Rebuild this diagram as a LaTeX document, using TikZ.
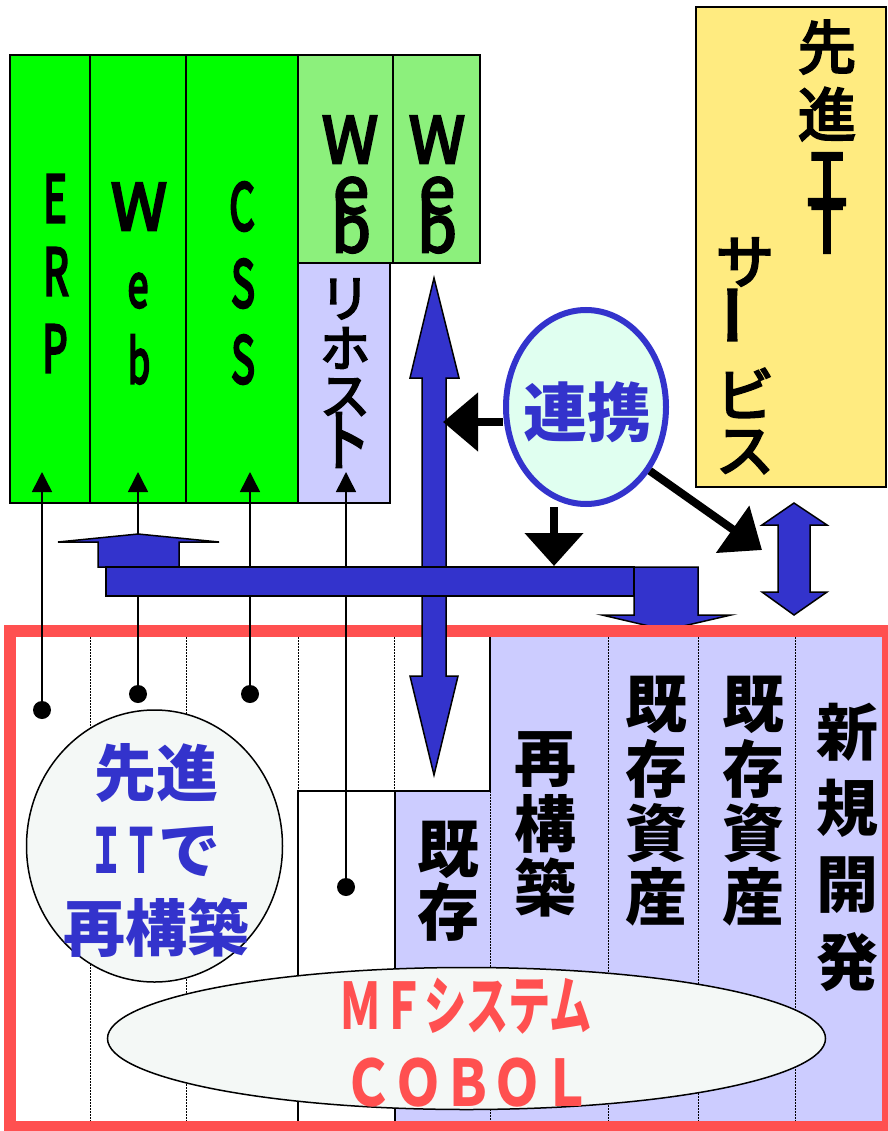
\documentclass[tikz,border=0pt]{standalone}
\usepackage{fontspec}
\usepackage{graphicx}
\newfontfamily\jp{Noto Sans CJK JP}
\newfontface\jpm[FakeBold=4]{Noto Sans CJK JP}
\newfontface\jpl[FakeBold=5]{Noto Sans CJK JP}
\usetikzlibrary{arrows.meta,shapes.geometric}
\definecolor{gr}{HTML}{00FF00}
\definecolor{lgr}{HTML}{8CF07C}
\definecolor{lav}{HTML}{CCCCFF}
\definecolor{bl}{HTML}{3333CC}
\definecolor{rd}{HTML}{FF5050}
\definecolor{ylw}{HTML}{FFEB80}
\definecolor{mint}{HTML}{E0FFF0}
\definecolor{pale}{HTML}{F4F8F6}
\newcommand\hsc[2]{\scalebox{#1}[1]{#2}}
\begin{document}
\begin{tikzpicture}[x=1pt,y=-1pt,
  box/.style={draw=black,line width=1.5pt,inner sep=0pt,outer sep=0pt,anchor=north west},
  lat/.style={font=\jpl\fontsize{64}{64}\selectfont,anchor=base,inner sep=0pt},
  lat2/.style={font=\jpl\fontsize{60}{60}\selectfont,anchor=base,inner sep=0pt},
  latw/.style={font=\jpm\fontsize{64}{64}\selectfont,anchor=base,inner sep=0pt},
  cj/.style={font=\jpm\fontsize{58}{58}\selectfont,inner sep=0pt},
  cjs/.style={font=\jpm\fontsize{50}{50}\selectfont,inner sep=0pt},
  cjb/.style={font=\jp\bfseries\fontsize{62}{62}\selectfont,inner sep=0pt},
  thinarrow/.style={line width=1.5pt,-{Triangle[length=20pt,width=20pt]}},
  dotnode/.style={circle,fill=black,inner sep=0pt,minimum size=18pt},
  blk/.style={line width=8pt,-{Triangle[length=35pt,width=57pt]}},
  blockarrow/.style={fill=bl,draw=black,line width=1.5pt,line join=miter},
  dotline/.style={line width=1pt,dash pattern=on 1.5pt off 1.5pt},
]
\path[fill=white,use as bounding box] (0,0) rectangle (887,1131);

% ---------- top boxes ----------
\node[box,fill=gr,minimum width=80pt,minimum height=448pt] (erp) at (10,55) {};
\node[box,fill=gr,minimum width=96pt,minimum height=448pt] (web) at (90,55) {};
\node[box,fill=gr,minimum width=112pt,minimum height=448pt] (css) at (186,55) {};
\node[box,fill=lgr,minimum width=95pt,minimum height=208pt] (webA) at (298,55) {};
\node[box,fill=lgr,minimum width=87pt,minimum height=208pt] (webB) at (393,55) {};
\node[box,fill=lav,minimum width=92pt,minimum height=240pt] (rehost) at (298,263) {};
\node[box,fill=ylw,minimum width=190pt,minimum height=480pt] (adv) at (696,7) {};

% letters in green columns
\node[lat] (e1) at (55,222) {\hsc{0.62}{E}};
\node[lat] (e2) at (56,295) {\hsc{0.62}{R}};
\node[lat] (e3) at (55,372) {\hsc{0.62}{P}};
\node[latw] (w1) at (139,230) {W};
\node[lat2] (w2) at (138,307) {\hsc{0.62}{e}};
\node[lat2] (w3) at (139,383) {\hsc{0.6}{b}};
\node[lat] (c1) at (242,230) {\hsc{0.62}{C}};
\node[lat] (c2) at (243,307) {\hsc{0.62}{S}};
\node[lat] (c3) at (243,383) {\hsc{0.62}{S}};
\node[latw] (wa1) at (350,163) {W};
\node[latw] (wa2) at (351,213) {e};
\node[latw] (wa3) at (351,252) {b};
\node[latw] (wb1) at (437,163) {W};
\node[latw] (wb2) at (437,213) {e};
\node[latw] (wb3) at (437,252) {b};
\node[cjs] (r1) at (345,299) {リ};
\node[cjs] (r2) at (345,348) {ホ};
\node[cjs] (r3) at (345,397) {ス};
\node[cjs] (r4) at (345,440) {\scalebox{1}[1.35]{ト}};

% yellow box text
\node[cj] (y1) at (827,47) {先};
\node[cj] (y2) at (827,114) {進};
\node[cj] (y3) at (827,181) {\scalebox{1}[1.3]{Ｉ}};
\node[cj] (y4) at (827,226) {\scalebox{1}[1.25]{Ｔ}};
\node[cj] (y5) at (745,262) {サ};
\node[cj,rotate=90] (y6) at (745,315) {\scalebox{1.1}[1.3]{ー}};
\node[cj] (y7) at (745,393) {ビ};
\node[cj] (y8) at (745,452) {ス};

% ---------- bottom zone ----------
\node[box,draw=none,fill=lav,minimum width=398pt,minimum height=496pt] (newzone) at (490,631) {};
\node[box,draw=none,fill=lav,minimum width=95pt,minimum height=336pt] (kizonbox) at (395,791) {};
\node[box,draw=none,minimum width=97pt,minimum height=336pt] (whitebox) at (298,791) {};
\foreach \x in {90,186,298,394,608,698,795} \draw[dotline] (\x,631) -- (\x,1125);
\draw[dotline] (490,791) -- (490,1125);
\draw[line width=1.5pt] (whitebox.south west) -- (whitebox.north west) -- (kizonbox.north east) -- (newzone.north west);
\draw[line width=1.5pt] (kizonbox.north west) -- (kizonbox.south west);

% down block arrow (under frame)
\draw[blockarrow] (634,567) -- (698,567) -- (698,615) -- (731,615) -- (666,630) -- (602,615) -- (634,615) -- cycle;

% red frame
\node[box,draw=rd,line width=12pt,minimum width=878pt,minimum height=496pt] (frame) at (10,631) {};

% circle and ellipse
\node[ellipse,draw=black,line width=1.5pt,fill=pale,minimum width=256pt,minimum height=272pt,inner sep=0pt] (sensin) at (154.5,846) {};
\node[cjb,text=bl] (s1) at (156,773) {先進};
\node[cjb,text=bl] (s2) at (155,852) {\hsc{0.55}{ＩＴ}で};
\node[cjb,text=bl] (s3) at (156,928) {再構築};

\node[ellipse,draw=black,line width=1.5pt,fill=pale,minimum width=718pt,minimum height=142pt,inner sep=0pt] (mf) at (466.5,1038.5) {};
\node[font=\jp\bfseries\fontsize{64}{64}\selectfont,text=rd,inner sep=0pt] (mf1) at (466,1006) {\hsc{0.66}{ＭＦシステム}};
\node[font=\jp\bfseries\fontsize{64}{64}\selectfont,text=rd,inner sep=0pt] (mf2) at (468,1083) {\hsc{0.78}{ＣＯＢＯＬ}};

% column texts
\foreach \c [count=\i] in {既,存} \node[cjb] (ka\i) at (448,850+62*\i-62) {\c};
\foreach \c [count=\i] in {再,構,築} \node[cjb] (sa\i) at (545,760+63.5*\i-63.5) {\c};
\foreach \c [count=\i] in {既,存,資,産} \node[cjb] (kb\i) at (656,705+64*\i-64) {\c};
\foreach \c [count=\i] in {既,存,資,産} \node[cjb] (kc\i) at (753,705+64*\i-64) {\c};
\foreach \c [count=\i] in {新,規,開,発} \node[cjb] (nk\i) at (847,732+76.7*\i-76.7) {\c};

% thin arrows
\node[dotnode] (dE) at (42,710) {};
\node[dotnode] (dW) at (138,694) {};
\node[dotnode] (dC) at (250,694) {};
\node[dotnode] (dR) at (346,887) {};
\coordinate (tE) at (42,472);
\coordinate (tW) at (138,472);
\coordinate (tC) at (250,472);
\coordinate (tR) at (346,472);
\draw[thinarrow] (dE.center) -- (tE);
\draw[thinarrow] (dW.center) -- (tW);
\draw[thinarrow] (dC.center) -- (tC);
\draw[thinarrow] (dR.center) -- (tR);

% vertical double arrow
\draw[blockarrow] (434,278) -- (459,378) -- (446,378) -- (446,676) -- (458,676) -- (434,775) -- (410,676) -- (422,676) -- (422,378) -- (410,378) -- cycle;

% bus bar and up arrow
\draw[blockarrow] (98,567) -- (98,542) -- (58,542) -- (138,534) -- (219,542) -- (179,542) -- (179,567) -- cycle;
\node[box,fill=bl,minimum width=528pt,minimum height=29pt] (bus) at (106,567) {};

% right double arrow
\draw[blockarrow] (794,503) -- (827,525) -- (810,525) -- (810,592) -- (827,592) -- (794,615) -- (762,592) -- (778,592) -- (778,525) -- (762,525) -- cycle;

% renkei
\node[ellipse,draw=bl,line width=6pt,fill=mint,minimum width=160pt,minimum height=194pt,inner sep=0pt] (renkei) at (586,407) {};
\node[font=\jp\bfseries\fontsize{64}{64}\selectfont,text=bl,inner sep=0pt] (rk) at (587,412) {連携};
\coordinate (kL) at (443,422);
\coordinate (kD) at (554,566);
\coordinate (kR) at (762,550);
\draw[blk] (renkei.west |- kL) -- (kL);
\draw[blk,-{Triangle[length=33pt,width=57pt]}] (renkei.south -| kD) -- (kD);
\draw[blk,-{Triangle[length=36pt,width=56pt]}] (renkei.-45) -- (kR);
\end{tikzpicture}
\end{document}
